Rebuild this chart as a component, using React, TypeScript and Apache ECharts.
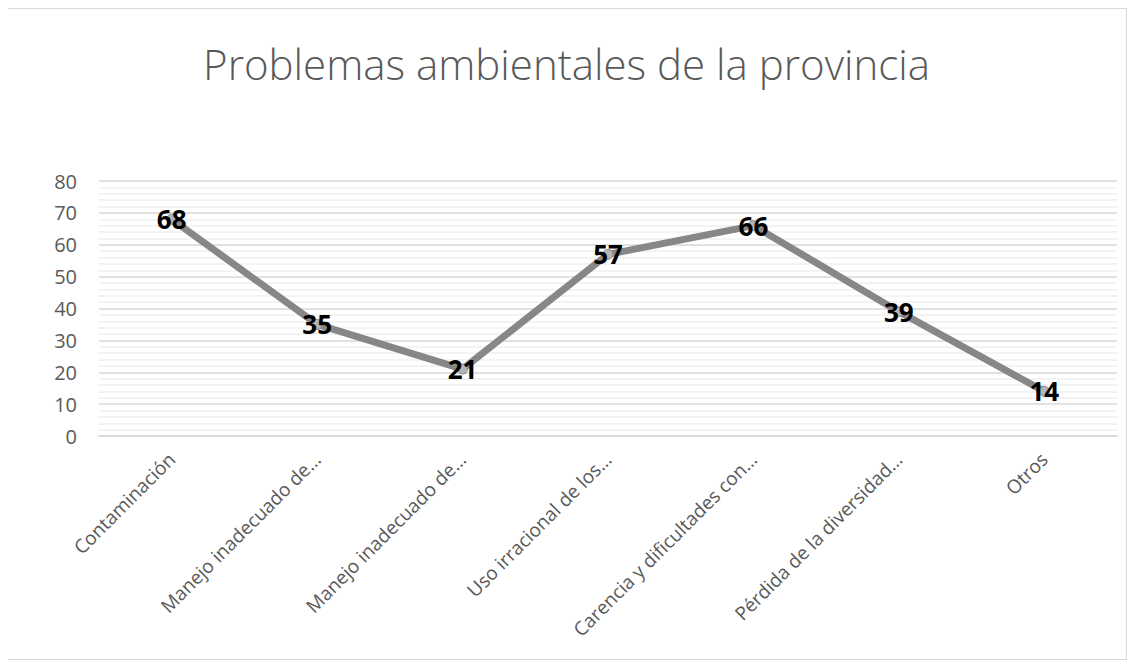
import React, { useEffect, useRef } from "react";
import * as echarts from "echarts";

const categories = [
  "Contaminación",
  "Manejo inadecuado de…",
  "Manejo inadecuado de…",
  "Uso irracional de los…",
  "Carencia y dificultades con…",
  "Pérdida de la diversidad…",
  "Otros",
];
const values = [68, 35, 21, 57, 66, 39, 14];
const titleText = "Problemas ambientales de la provincia";

export default function App() {
  const ref = useRef<HTMLDivElement>(null);
  useEffect(() => {
    if (!ref.current) return;
    const chart = echarts.init(ref.current, null, { renderer: "svg" });
    chart.setOption({
      animation: false,
      backgroundColor: "#ffffff",
      title: {
        text: titleText,
        left: "center",
        top: 28,
        textStyle: {
          fontFamily: "Open Sans",
          fontWeight: 300,
          fontSize: 42,
          color: "#595959",
        },
      },
      grid: { left: 92, top: 172, width: 1018, height: 255 },
      xAxis: {
        type: "category",
        data: categories,
        boundaryGap: true,
        axisLine: { show: true, lineStyle: { color: "#d9d9d9", width: 1.5 } },
        axisTick: { show: false },
        axisLabel: {
          rotate: 45,
          interval: 0,
          fontSize: 19,
          color: "#595959",
          fontFamily: "Open Sans",
          margin: 20,
        },
      },
      yAxis: {
        type: "value",
        min: 0,
        max: 80,
        interval: 10,
        axisLine: { show: false },
        axisTick: { show: false },
        axisLabel: {
          fontSize: 20,
          color: "#595959",
          fontFamily: "Open Sans",
          margin: 22,
        },
        splitLine: { show: true, lineStyle: { color: "#d9d9d9", width: 1.5 } },
        minorTick: { show: false, splitNumber: 5 },
        minorSplitLine: { show: true, lineStyle: { color: "#efefef", width: 1.5 } },
      },
      series: [
        {
          type: "line",
          data: values,
          symbol: "circle",
          symbolSize: 10,
          lineStyle: { color: "#878787", width: 7 },
          itemStyle: { color: "#b4b4b4", borderColor: "#878787", borderWidth: 1 },
          label: {
            show: true,
            position: "inside",
            fontSize: 26,
            fontWeight: "bold",
            color: "#000000",
            fontFamily: "Open Sans",
          },
        },
      ],
    });
    return () => chart.dispose();
  }, []);
  return (
    <div
      ref={ref}
      style={{
        width: 1119,
        height: 650,
        border: "1px solid #d9d9d9",
        marginLeft: -2,
        marginTop: 0,
      }}
    />
  );
}
